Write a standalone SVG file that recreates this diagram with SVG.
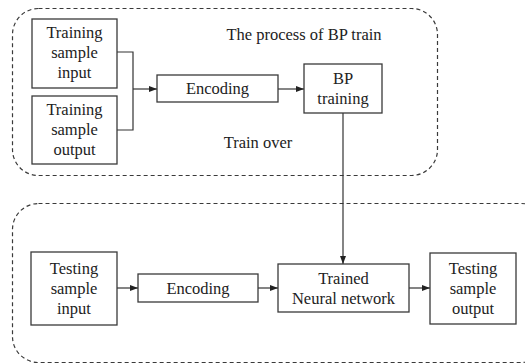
<svg xmlns="http://www.w3.org/2000/svg" width="525" height="363" viewBox="0 0 525 363">
<style>
.box{fill:#fff;stroke:#3a3a3a;stroke-width:1.3}
.grp{fill:none;stroke:#3a3a3a;stroke-width:1.2;stroke-dasharray:4 3}
.ln{fill:none;stroke:#333;stroke-width:1.2}
text{font-family:'Liberation Serif','Times New Roman',Tinos,'DejaVu Serif',serif;font-size:16.5px;fill:#222;text-anchor:middle}
</style>
<defs>
<marker id="ah" viewBox="0 0 8 8" refX="8" refY="4" markerWidth="8" markerHeight="8" markerUnits="userSpaceOnUse" orient="auto">
<path d="M0,1 L8,4 L0,7 Z" fill="#222"/>
</marker>
</defs>
<rect width="525" height="363" fill="#fff"/>
<g id="groups">
<rect class="grp" x="12.5" y="8.5" width="425" height="167" rx="26"/>
<rect class="grp" x="12.5" y="203.5" width="535" height="159" rx="26"/>
<text x="304" y="40">The process of BP train</text>
<text x="258" y="148">Train over</text>
</g>
<g id="connectors">
<path class="ln" d="M117,52 H133 V130 H117"/>
<path class="ln" d="M133,89 H157" marker-end="url(#ah)"/>
<path class="ln" d="M278,89 H304" marker-end="url(#ah)"/>
<path class="ln" d="M343,113 V264" marker-end="url(#ah)"/>
<path class="ln" d="M117,288 H138" marker-end="url(#ah)"/>
<path class="ln" d="M258,288 H278" marker-end="url(#ah)"/>
<path class="ln" d="M409,288 H430" marker-end="url(#ah)"/>
</g>
<g id="train-input">
<rect class="box" x="32" y="19" width="85" height="69"/>
<text x="74.5" y="38">Training</text>
<text x="74.5" y="58">sample</text>
<text x="74.5" y="78">input</text>
</g>
<g id="train-output">
<rect class="box" x="32" y="96" width="85" height="68"/>
<text x="74.5" y="115">Training</text>
<text x="74.5" y="135">sample</text>
<text x="74.5" y="155">output</text>
</g>
<g id="encoding1">
<rect class="box" x="157" y="75" width="121" height="27"/>
<text x="217.5" y="94">Encoding</text>
</g>
<g id="bp-training">
<rect class="box" x="304" y="64" width="78" height="49"/>
<text x="343" y="84">BP</text>
<text x="343" y="104">training</text>
</g>
<g id="test-input">
<rect class="box" x="31" y="252" width="86" height="73"/>
<text x="74" y="273.5">Testing</text>
<text x="74" y="293.5">sample</text>
<text x="74" y="313.5">input</text>
</g>
<g id="encoding2">
<rect class="box" x="138" y="274" width="120" height="28"/>
<text x="198" y="293.5">Encoding</text>
</g>
<g id="trained-nn">
<rect class="box" x="278" y="264" width="131" height="48"/>
<text x="343.5" y="283.5">Trained</text>
<text x="343.5" y="303.5">Neural network</text>
</g>
<g id="test-output">
<rect class="box" x="430" y="253" width="86" height="71"/>
<text x="473" y="273.5">Testing</text>
<text x="473" y="293.5">sample</text>
<text x="473" y="313.5">output</text>
</g>
</svg>
